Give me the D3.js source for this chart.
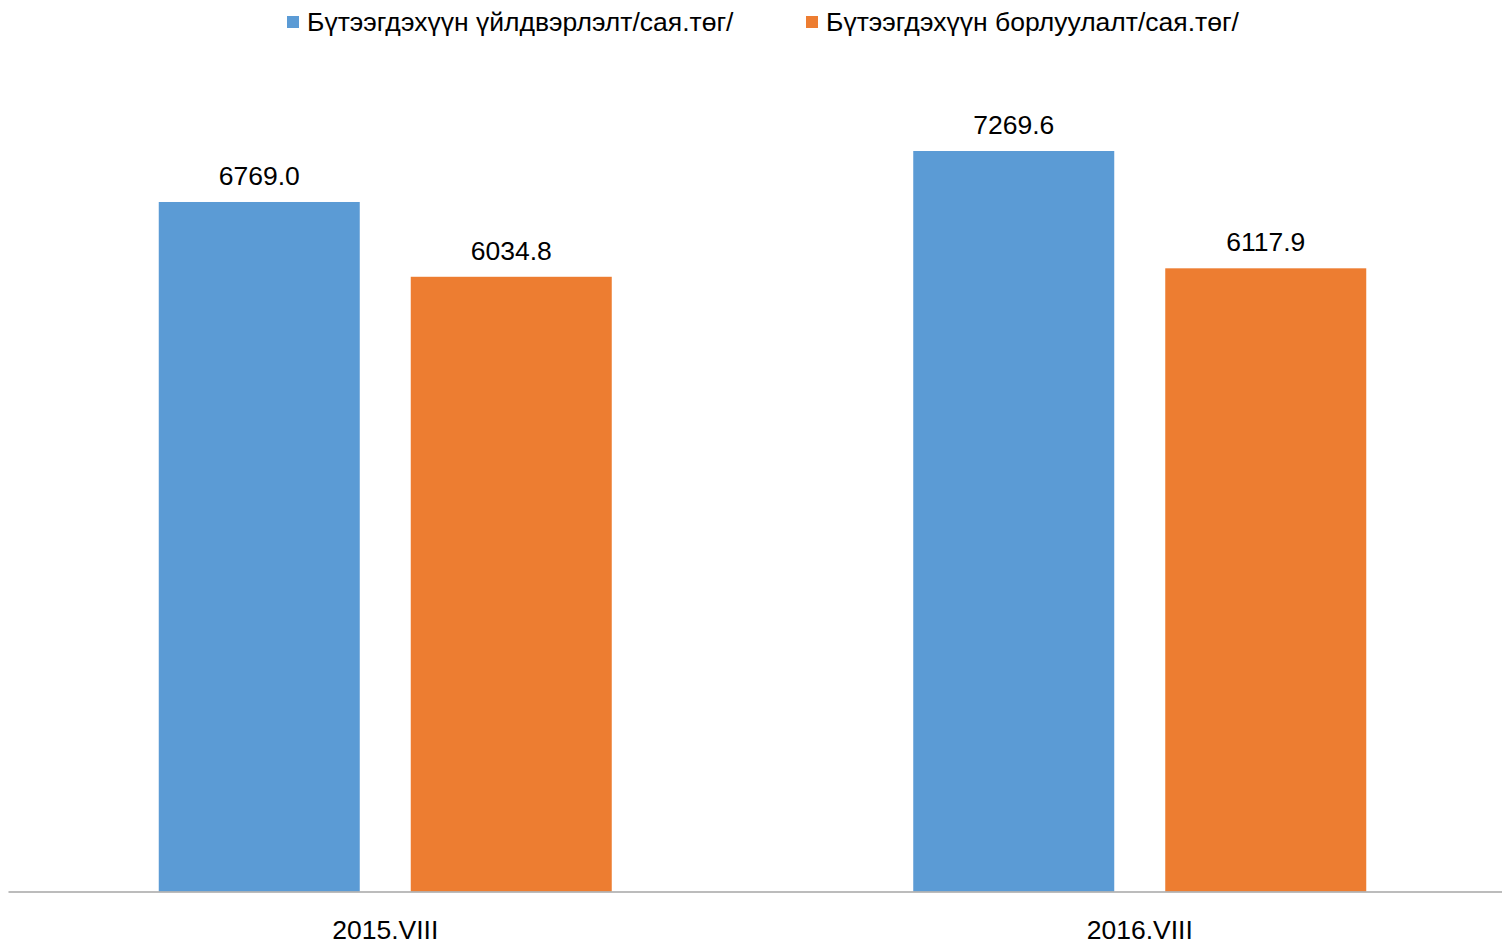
<!DOCTYPE html>
<html><head><meta charset="utf-8">
<script src="https://cdn.jsdelivr.net/npm/d3@7"></script>
<style>html,body{margin:0;padding:0;background:#fff;overflow:hidden}</style>
</head><body>
<svg id="chart" width="1502" height="945"></svg>
<script>
const categories = ["2015.VIII", "2016.VIII"];
const seriesNames = ["Бүтээгдэхүүн үйлдвэрлэлт/сая.төг/", "Бүтээгдэхүүн борлуулалт/сая.төг/"];
const production = [6769.0, 7269.6];
const sales = [6034.8, 6117.9];
const colors = ["#5B9BD5", "#ED7D31"];

const series = [production, sales];
const svg = d3.select("#chart");
const font = "'Liberation Sans', Arial, sans-serif";
const fs = 26.5;

const x0 = d3.scaleBand().domain(categories).range([8, 1517]).paddingInner(0).paddingOuter(0);
const x1 = d3.scaleBand().domain(d3.range(series.length)).range([150.75, 150.75 + 453]).paddingInner(51/252).paddingOuter(0);
const y = d3.scaleLinear().domain([0, 8000]).range([891.5, 76.6]);

series.forEach((vals, si) => {
  const g = svg.append("g");
  g.selectAll("rect").data(vals).enter().append("rect")
    .attr("x", (d, i) => x0(categories[i]) + x1(si))
    .attr("y", d => y(d))
    .attr("width", x1.bandwidth())
    .attr("height", d => y(0) - y(d))
    .attr("fill", colors[si]);
  g.selectAll("text").data(vals).enter().append("text")
    .attr("x", (d, i) => x0(categories[i]) + x1(si) + x1.bandwidth() / 2)
    .attr("y", d => y(d) - 17)
    .attr("text-anchor", "middle")
    .attr("font-family", font).attr("font-size", fs).attr("fill", "#000")
    .text(d => d.toFixed(1));
});

// axis
const xAxis = d3.axisBottom(x0).tickSize(0).tickPadding(0);
const ax = svg.append("g").attr("transform", `translate(0,${y(0)})`).call(xAxis);
ax.select(".domain").attr("stroke", "#A6A6A6").attr("stroke-width", 1.5);
ax.selectAll("text").attr("font-family", font).attr("font-size", fs).attr("fill", "#000")
  .attr("dy", 0).attr("y", 47.5);

// legend
const legendX = [287, 806];
seriesNames.forEach((name, i) => {
  svg.append("rect").attr("x", legendX[i]).attr("y", 16).attr("width", 12).attr("height", 12).attr("fill", colors[i]);
  svg.append("text").attr("x", legendX[i] + 20).attr("y", 31)
    .attr("font-family", font).attr("font-size", fs).attr("fill", "#000").text(name);
});
</script>
</body></html>
